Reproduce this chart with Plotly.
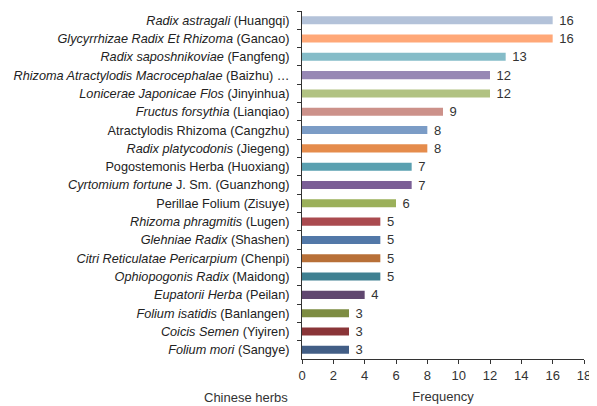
import plotly.graph_objects as go

latin = ["Radix astragali", "Glycyrrhizae Radix Et Rhizoma", "Radix saposhnikoviae",
         "Rhizoma Atractylodis Macrocephalae", "Lonicerae Japonicae Flos", "Fructus forsythia",
         "Atractylodis Rhizoma", "Radix platycodonis", "Pogostemonis Herba", "Cyrtomium fortune",
         "Perillae Folium", "Rhizoma phragmitis", "Glehniae Radix", "Citri Reticulatae Pericarpium",
         "Ophiopogonis Radix", "Eupatorii Herba", "Folium isatidis", "Coicis Semen", "Folium mori"]
italic = [True, True, True, True, True, True, False, True, False, True,
          False, True, True, True, True, True, True, True, True]
suffix = ["", "", "", "", "", "", "", "", "", " J. Sm.", "", "", "", "", "", "", "", "", ""]
pinyin = ["Huangqi", "Gancao", "Fangfeng", "Baizhu", "Jinyinhua", "Lianqiao", "Cangzhu",
          "Jiegeng", "Huoxiang", "Guanzhong", "Zisuye", "Lugen", "Shashen", "Chenpi",
          "Maidong", "Peilan", "Banlangen", "Yiyiren", "Sangye"]
trail = ["", "", "", " …", "", "", "", "", "", "", "", "", "", "", "", "", "", "", ""]
values = [16, 16, 13, 12, 12, 9, 8, 8, 7, 7, 6, 5, 5, 5, 5, 4, 3, 3, 3]
colors = ["#b3c2d9", "#ffa878", "#85bcc8", "#9788b4", "#b1c282", "#cc918a", "#7b9cc6",
          "#e58c4c", "#5aa0b0", "#7b5f96", "#9bb05a", "#aa4a4f", "#5278a8", "#b87038",
          "#3f8091", "#60476f", "#7d8c42", "#8a3538", "#425e86"]
x_ticks = [0, 2, 4, 6, 8, 10, 12, 14, 16, 18]

labels = []
for n, it, s, p, t in zip(latin, italic, suffix, pinyin, trail):
    name = f"<i>{n}</i>" if it else n
    labels.append(f"{name}{s} ({p}){t}")

fig = go.Figure(go.Bar(
    x=values, y=labels, orientation="h",
    marker=dict(color=colors, line=dict(width=0)),
    text=[f" {v}" for v in values], textposition="outside", cliponaxis=False,
    constraintext="none",
    textfont=dict(size=13, color="#333333"),
    width=0.44,
))

font = "Liberation Sans, Arial, sans-serif"
fig.update_layout(
    width=589, height=398,
    margin=dict(l=294, r=13, t=3, b=47),
    plot_bgcolor="white", paper_bgcolor="white",
    font=dict(family=font, size=13, color="#222222"),
    showlegend=False,
    xaxis=dict(range=[0, 18], tickvals=x_ticks, showline=True, linecolor="#333333",
               linewidth=1, ticks="outside", ticklen=4, tickcolor="#333333",
               showgrid=False, zeroline=False, tickfont=dict(size=13, color="#333333"),
               automargin=False,
               title=dict(text="Frequency", standoff=10, font=dict(size=13, color="#333333"))),
    yaxis=dict(autorange="reversed", showline=True, linecolor="#333333", linewidth=1,
               ticks="outside", ticklen=4, tickcolor="#333333", tickson="boundaries",
               showgrid=False, ticklabelstandoff=9, automargin=False,
               tickfont=dict(size=12.7, color="#222222")),
    annotations=[dict(text="Chinese herbs", xref="paper", yref="paper", x=-0.2, y=0,
                      xanchor="center", yanchor="middle", yshift=-38, showarrow=False,
                      font=dict(size=13, color="#333333"))],
)
fig.write_html("out.html")
